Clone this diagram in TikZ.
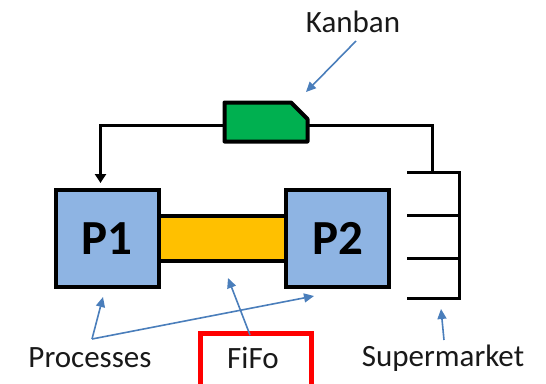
\documentclass[tikz,border=0pt]{standalone}
\usepackage{fontspec}
\setmainfont{Carlito}
\usetikzlibrary{arrows.meta}
\definecolor{procblue}{HTML}{8EB4E3}
\definecolor{fifoyellow}{HTML}{FFC000}
\definecolor{kanbangreen}{HTML}{00B050}
\definecolor{callout}{HTML}{4A7EBB}
\definecolor{fifored}{HTML}{FF0000}
\tikzset{
  proc/.style={draw=black, line width=4pt, fill=procblue, minimum width=103pt, minimum height=97pt, inner sep=0pt, font=\fontsize{49}{51}\selectfont\bfseries},
  flowline/.style={line width=3pt, line join=miter},
  pointer/.style={draw=callout, line width=1.6pt, -{Triangle[width=9pt,length=10pt]}},
  label/.style={font=\fontsize{31}{34}\selectfont, inner sep=0pt, text=black!90},
}
\begin{document}
\begin{tikzpicture}[x=1pt, y=-1pt]
\useasboundingbox (0,0) rectangle (546,383);

% FiFo lane between the two processes
\node[draw=black, line width=4pt, fill=fifoyellow, minimum width=130pt, minimum height=45pt, inner sep=0pt] (lane) at (222,238.5) {};

% processes
\node[proc] (p1) at (107,238.5) {P1};
\node[proc] (p2) at (337.5,238.5) {P2};

% supermarket shelves
\coordinate (s1) at (407,172);
\coordinate (s2) at (407,215);
\coordinate (s3) at (407,258);
\coordinate (s4) at (407,298);
\coordinate (sb) at (459,172);
\draw[flowline] (s1) -- (sb) -- (459,298) -- (s4);
\draw[flowline] (s2) -- (459,215);
\draw[flowline] (s3) -- (459,258);

% kanban loop
\coordinate (stem) at (432.5,172);
\coordinate (topR) at (432.5,125);
\coordinate (topL) at (100.5,125);
\draw[flowline] (stem) -- (topR) -- (topL) -- (100.5,176);
\draw[black, -{Triangle[width=11pt,length=9pt]}, line width=3pt] (100.5,172) -- (100.5,183);

% kanban card
\draw[line width=4pt, fill=kanbangreen, line join=round] (224.5,102.5) -- (291,102.5) -- (307.5,119) -- (307.5,141.5) -- (224.5,141.5) -- cycle;
\coordinate (kcard) at (306,92);

% labels
\node[label] (kanban) at (353,22) {Kanban};
\node[label] (procs) at (90,358) {Processes};
\node[label] (fifo) at (253,358) {FiFo};
\node[label] (smkt) at (443,358) {Supermarket};
\node[draw=fifored, line width=5pt, minimum width=111pt, minimum height=54pt, inner sep=0pt] (fifobox) at (255.5,360) {};

% callout arrows
\coordinate (pfork) at (92,339);
\draw[pointer] (356,41) -- (kcard);
\draw[pointer] (pfork) -- (103,297);
\draw[pointer] (pfork) -- (314,296);
\draw[pointer] (250,335) -- (228,278);
\draw[pointer] (444,340) -- (441,309);
\end{tikzpicture}
\end{document}
